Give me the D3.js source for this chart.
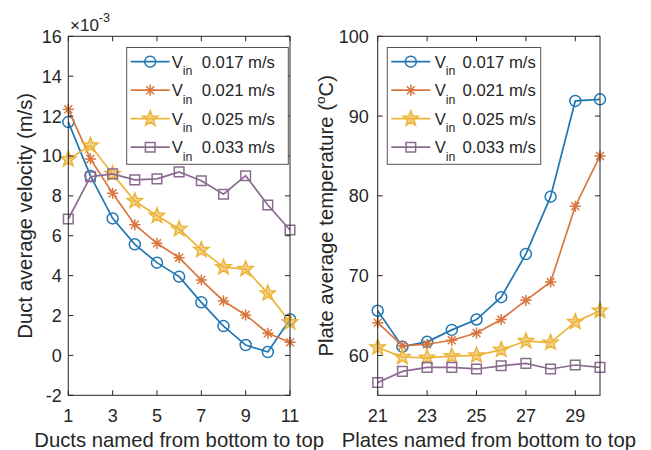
<!DOCTYPE html>
<html><head><meta charset="utf-8">
<script src="https://cdn.jsdelivr.net/npm/d3@7"></script>
<style>body{margin:0;background:#fff}svg{display:block}text{font-family:"Liberation Sans",Arial,sans-serif;fill:#262626}</style>
</head><body><svg id="c" width="651" height="450"></svg>
<script>
const seriesNames = ["0.017 m/s","0.021 m/s","0.025 m/s","0.033 m/s"];
const colors = ["#1f77b4","#d9773f","#edb43a","#8a6b8f"];
const markers = ["circle","asterisk","star","square"];

const ducts = [1,2,3,4,5,6,7,8,9,10,11];
const velocity017 = [11.7,9.0,6.87,5.57,4.65,3.95,2.66,1.47,0.52,0.17,1.81];
const velocity021 = [12.34,9.85,8.13,6.55,5.62,4.9,3.78,2.73,2.03,1.11,0.66];
const velocity025 = [9.83,10.52,9.1,7.74,7.0,6.34,5.29,4.42,4.33,3.11,1.66];
const velocity033 = [6.84,8.96,9.1,8.8,8.85,9.2,8.76,8.08,9.01,7.54,6.29];
const velTicks = [-2,0,2,4,6,8,10,12,14,16];
const ductTicks = [1,3,5,7,9,11];

const plates = [21,22,23,24,25,26,27,28,29,30];
const temp017 = [65.6,61.1,61.7,63.2,64.5,67.3,72.7,79.9,91.9,92.1];
const temp021 = [64.1,61.2,61.4,61.9,62.8,64.5,66.9,69.2,78.7,85.0];
const temp025 = [61.0,59.8,59.7,59.9,60.0,60.7,61.8,61.6,64.2,65.6];
const temp033 = [56.6,58.0,58.5,58.5,58.3,58.7,59.0,58.3,58.8,58.5];
const tempTicks = [60,70,80,90,100];
const plateTicks = [21,23,25,27,29];

const svg = d3.select("#c");
const axisCol = "#262626";

function markerPath(type){
  if(type==="circle") return d3.symbol(d3.symbolCircle, Math.PI*5.5*5.5)();
  if(type==="square") return "M-4.8,-4.8H4.8V4.8H-4.8Z";
  if(type==="star"){
    const pts=[];
    for(let i=0;i<10;i++){const r=i%2?3.4:8.0;const a=-Math.PI/2+i*Math.PI/5;pts.push([r*Math.cos(a),r*Math.sin(a)]);}
    return "M"+pts.map(p=>p.join(",")).join("L")+"Z";
  }
  const r=5.6, d=r*0.7071;
  return `M0,${-r}V${r}M${-r},0H${r}M${-d},${-d}L${d},${d}M${-d},${d}L${d},${-d}`;
}
function drawMarker(g,type,col,x,y){
  const p=g.append("path").attr("d",markerPath(type)).attr("transform",`translate(${x},${y})`)
   .attr("stroke",col).attr("stroke-width",1.5);
  if(type==="star") p.attr("fill",col).attr("fill-opacity",0.6).attr("stroke-linejoin","miter");
  else p.attr("fill","none");
}

function panel(opt){
  const {left,right,top,bottom,xDom,yDom,xTicks,yTicks,xs,ys,xLabel,legX}=opt;
  const x=d3.scaleLinear().domain(xDom).range([left,right]);
  const y=d3.scaleLinear().domain(yDom).range([bottom,top]);
  const g=svg.append("g");
  ys.forEach((vals,k)=>{
    const line=d3.line().x((d,i)=>x(xs[i])).y(d=>y(d));
    g.append("path").attr("d",line(vals)).attr("fill","none").attr("stroke",colors[k]).attr("stroke-width",1.7);
    vals.forEach((v,i)=>drawMarker(g,markers[k],colors[k],x(xs[i]),y(v)));
  });
  const fs=18, tl=5;
  const ax=svg.append("g");
  ax.append("rect").attr("x",left).attr("y",top).attr("width",right-left).attr("height",bottom-top)
    .attr("fill","none").attr("stroke",axisCol).attr("stroke-width",1);
  xTicks.forEach(t=>{
    const px=x(t);
    ax.append("line").attr("x1",px).attr("x2",px).attr("y1",bottom).attr("y2",bottom-tl).attr("stroke",axisCol);
    ax.append("line").attr("x1",px).attr("x2",px).attr("y1",top).attr("y2",top+tl).attr("stroke",axisCol);
    ax.append("text").attr("x",px).attr("y",421.5).attr("text-anchor","middle").attr("font-size",fs).text(t);
  });
  yTicks.forEach(t=>{
    const py=y(t);
    ax.append("line").attr("y1",py).attr("y2",py).attr("x1",left).attr("x2",left+tl).attr("stroke",axisCol);
    ax.append("line").attr("y1",py).attr("y2",py).attr("x1",right).attr("x2",right-tl).attr("stroke",axisCol);
    ax.append("text").attr("x",left-opt.gap).attr("y",py).attr("dy","0.36em").attr("text-anchor","end").attr("font-size",fs).text(t);
  });
  ax.append("text").attr("x",(left+right)/2).attr("y",447).attr("text-anchor","middle").attr("font-size",20.3).text(xLabel);
  const lg=svg.append("g");
  lg.append("rect").attr("x",legX[0]).attr("y",47.5).attr("width",legX[1]-legX[0]).attr("height",116.8)
    .attr("fill","#fff").attr("stroke","#555").attr("stroke-width",1);
  seriesNames.forEach((nm,k)=>{
    const cy=61.7+k*28.5;
    const x0=legX[0]+4;
    lg.append("line").attr("x1",x0).attr("x2",x0+39).attr("y1",cy).attr("y2",cy).attr("stroke",colors[k]).attr("stroke-width",1.7);
    drawMarker(lg,markers[k],colors[k],x0+19.5,cy);
    const tx=x0+opt.vOff;
    lg.append("text").attr("x",tx).attr("y",cy+6).attr("font-size",16.7).text("V");
    lg.append("text").attr("x",tx+11).attr("y",cy+13.5).attr("font-size",12.3).text("in");
    lg.append("text").attr("x",tx+opt.valOff).attr("y",cy+6).attr("font-size",16.7).text(nm);
  });
}

panel({left:68.3,right:290,top:36.3,bottom:395.3,xDom:[1,11],yDom:[-2,16],xTicks:ductTicks,yTicks:velTicks,
  xs:ducts,ys:[velocity017,velocity021,velocity025,velocity033],xLabel:"Ducts named from bottom to top",
  legX:[126.7,288.3],gap:6.5,vOff:41,valOff:30});
panel({left:377.7,right:600,top:36.3,bottom:395.3,xDom:[21,30],yDom:[55,100],xTicks:plateTicks,yTicks:tempTicks,
  xs:plates,ys:[temp017,temp021,temp025,temp033],xLabel:"Plates named from bottom to top",
  legX:[387.3,540.7],gap:9,vOff:43.5,valOff:27.7});

const ex=svg.append("text").attr("x",70).attr("y",31).attr("font-size",17);
ex.append("tspan").text("\u00d710");
ex.append("tspan").attr("font-size",12.5).attr("dy",-9).text("-3");

svg.append("text").attr("transform","translate(32,215.8) rotate(-90)").attr("text-anchor","middle").attr("font-size",20.3)
  .text("Duct average velocity (m/s)");
const yl=svg.append("text").attr("transform","translate(333,215.8) rotate(-90)").attr("text-anchor","middle").attr("font-size",20.3);
yl.append("tspan").text("Plate average temperature (");
yl.append("tspan").attr("font-size",13.5).attr("dy",-8).text("o");
yl.append("tspan").attr("dy",8).text("C)");
</script></body></html>
